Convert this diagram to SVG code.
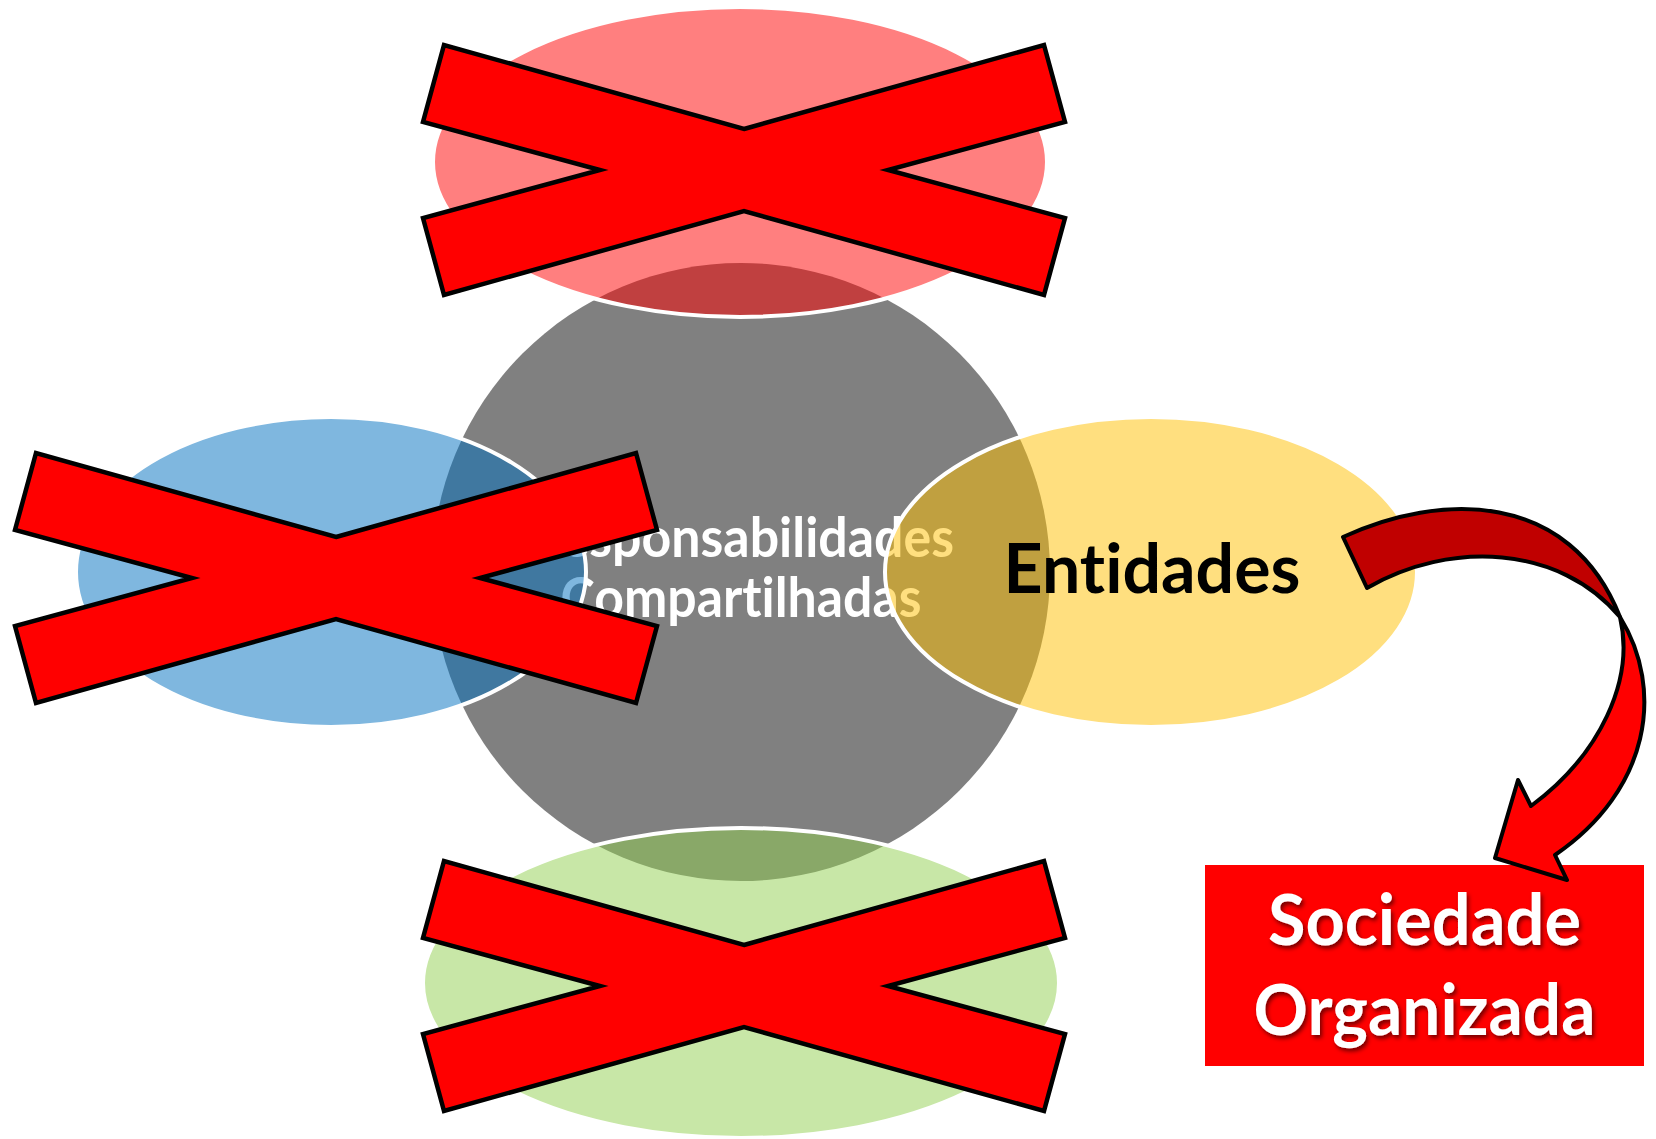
<svg xmlns="http://www.w3.org/2000/svg" xmlns:xlink="http://www.w3.org/1999/xlink" width="1656" height="1139" viewBox="0 0 1656 1139">
  <style>
    .venn { fill-opacity: 0.5; stroke: #FFFFFF; stroke-width: 4; }
    .cross { fill: #FF0000; stroke: #000000; stroke-width: 4.5; stroke-linejoin: miter; }
    .arrow { stroke: #000000; stroke-width: 4; stroke-linejoin: round; }
    .lbl { font-family: Lato, "Open Sans", "Liberation Sans", sans-serif; font-weight: bold; text-anchor: middle; font-variant-ligatures: none; font-feature-settings: "liga" 0, "clig" 0; }
  </style>
  <defs>
    <polygon id="xshape" points="0,-41 300,-125 321,-48 144,0 321,48 300,125 0,41 -300,125 -321,48 -144,0 -321,-48 -300,-125"/>
    <filter id="shadow" x="-10%" y="-20%" width="120%" height="150%">
      <feDropShadow dx="2" dy="3" stdDeviation="2" flood-color="#000000" flood-opacity="0.55"/>
    </filter>
  </defs>
  <rect width="1656" height="1139" fill="#FFFFFF"/>

  <g id="center">
    <circle cx="741" cy="572" r="309" fill="#808080"/>
    <text class="lbl" x="742" y="557" font-size="56" fill="#FFFFFF" textLength="424" lengthAdjust="spacingAndGlyphs">Responsabilidades</text>
    <text class="lbl" x="741" y="617" font-size="56" fill="#FFFFFF" textLength="361" lengthAdjust="spacingAndGlyphs">Compartilhadas</text>
  </g>

  <g id="top">
    <ellipse class="venn" cx="740" cy="162" rx="307" ry="155" fill="#FF0000"/>
  </g>
  <g id="left">
    <ellipse class="venn" cx="331" cy="572" rx="255" ry="155" fill="#0070C0"/>
  </g>
  <g id="right">
    <ellipse class="venn" cx="1151" cy="572" rx="266" ry="155" fill="#FFC000"/>
    <text class="lbl" x="1152" y="593" font-size="69" fill="#000000" textLength="297" lengthAdjust="spacingAndGlyphs">Entidades</text>
  </g>
  <g id="bottom">
    <ellipse class="venn" cx="741" cy="983" rx="318" ry="155" fill="#92D050"/>
  </g>

  <g id="crosses">
    <use xlink:href="#xshape" href="#xshape" class="cross" transform="translate(744,170)"/>
    <use xlink:href="#xshape" href="#xshape" class="cross" transform="translate(336,578)"/>
    <use xlink:href="#xshape" href="#xshape" class="cross" transform="translate(744,986)"/>
  </g>

  <g id="sociedade">
    <rect x="1205" y="865" width="439" height="201" fill="#FF0000"/>
    <g filter="url(#shadow)">
      <text class="lbl" x="1424.5" y="945" font-size="71" fill="#FFFFFF" textLength="313" lengthAdjust="spacingAndGlyphs">Sociedade</text>
      <text class="lbl" x="1424.5" y="1035" font-size="71" fill="#FFFFFF" textLength="342" lengthAdjust="spacingAndGlyphs">Organizada</text>
    </g>
  </g>

  <g id="connectors">
    <path class="arrow" fill="#C00000" d="M1343,537 C1440,492 1570,490 1620,617 C1560,545 1450,540 1367,588 Z"/>
    <path class="arrow" fill="#FF0000" d="M1620,617 C1665,690 1650,790 1555,855 L1567,880 L1495,858 L1518,780 L1531,806 C1600,755 1635,680 1620,617 Z"/>
  </g>
</svg>
